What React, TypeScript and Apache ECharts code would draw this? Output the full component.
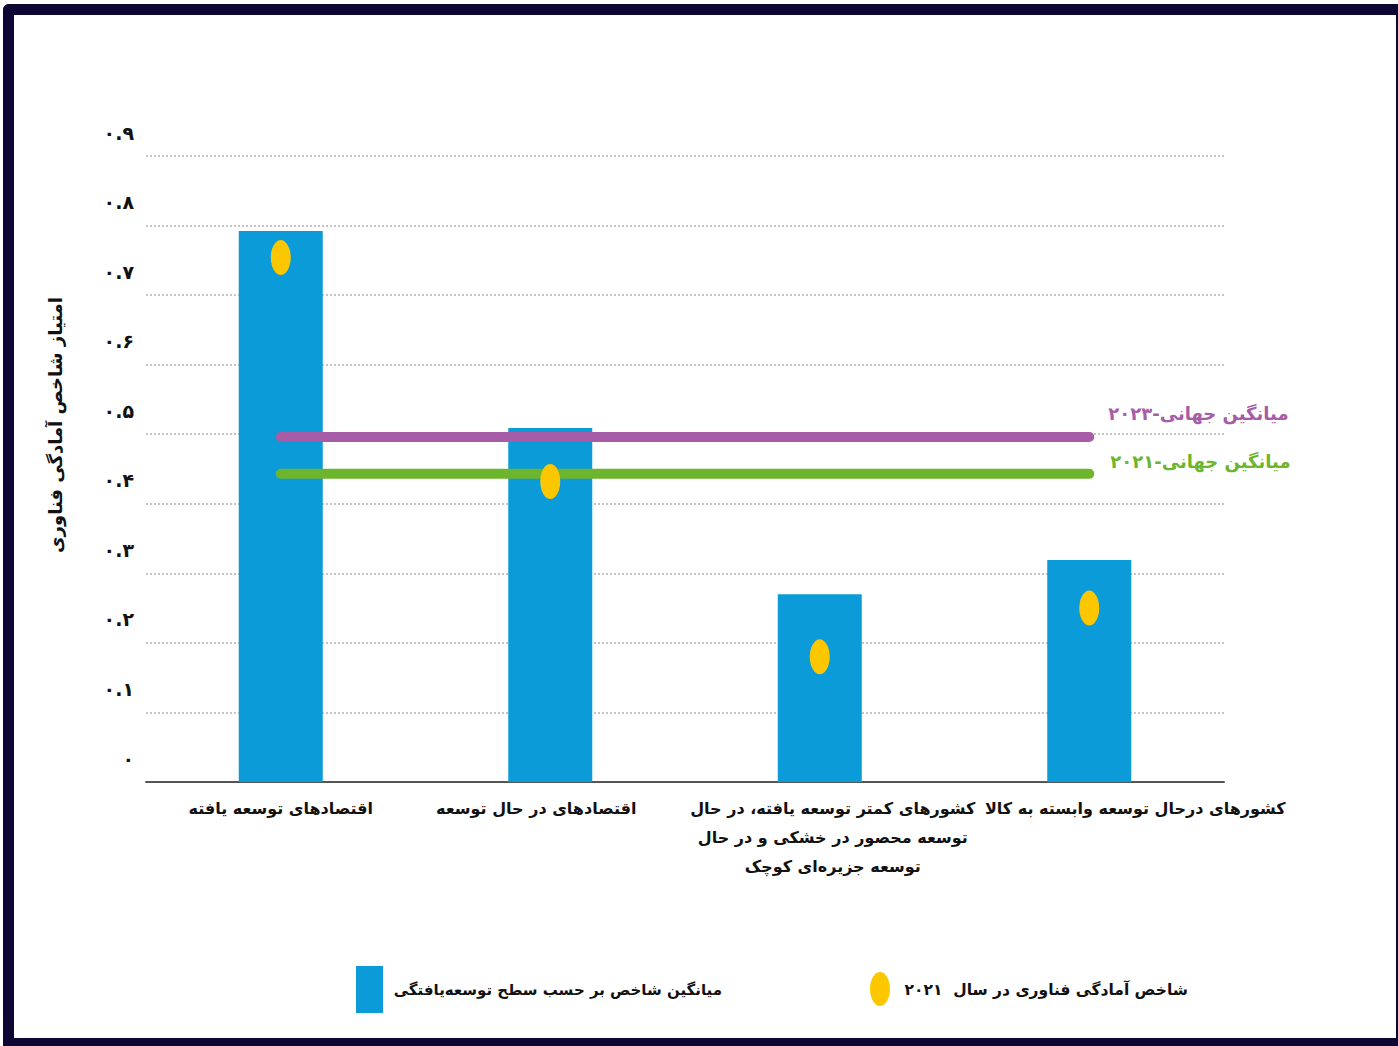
import React, { useEffect, useRef } from "react";
import * as echarts from "echarts";

const categories = [
  "اقتصادهای توسعه یافته",
  "اقتصادهای در حال توسعه",
  "کشورهای کمتر توسعه یافته، در حال\nتوسعه محصور در خشکی و در حال\nتوسعه جزیره‌ای کوچک",
  "کشورهای درحال توسعه وابسته به کالا",
];
const barValues = [0.792, 0.509, 0.27, 0.319];
const dotValues = [0.754, 0.432, 0.18, 0.25];
const worldAvg2023 = 0.496;
const worldAvg2021 = 0.443;
const yTickLabels = ["۰", "۰.۱", "۰.۲", "۰.۳", "۰.۴", "۰.۵", "۰.۶", "۰.۷", "۰.۸", "۰.۹"];
const yAxisTitle = "امتیاز شاخص آمادگی فناوری";
const label2023 = "میانگین جهانی-۲۰۲۳";
const label2021 = "میانگین جهانی-۲۰۲۱";
const legendBar = "میانگین شاخص بر حسب سطح توسعه‌یافتگی";
const legendDot = "شاخص آمادگی فناوری در سال  ۲۰۲۱";

const FONT = "'DejaVu Sans', sans-serif";
const BLUE = "#0a9bd8";
const YELLOW = "#fdc700";
const PURPLE = "#a65ca6";
const GREEN = "#6cb52d";
const FRAME = "#0f0733";

const catPadding = [
  [0, 0, 0, 0],
  [0, 28, 0, 0],
  [0, 0, 0, 26],
  [0, 0, 0, 92],
];

export default function App() {
  const ref = useRef<HTMLDivElement>(null);
  useEffect(() => {
    if (!ref.current) return;
    const chart = echarts.init(ref.current, null, { renderer: "svg" });
    chart.setOption({
      animation: false,
      backgroundColor: "#ffffff",
      grid: { left: 146, right: 174, top: 156, bottom: 264, containLabel: false },
      xAxis: {
        type: "category",
        data: categories.map((c, i) => ({
          value: c,
          textStyle: { padding: catPadding[i] },
        })),
        axisLine: { show: true, lineStyle: { color: "#555555", width: 2 } },
        axisTick: { show: false },
        axisLabel: {
          interval: 0,
          margin: 12,
          color: "#111111",
          fontFamily: FONT,
          fontWeight: "bold",
          fontSize: 16,
          lineHeight: 29,
        },
      },
      yAxis: {
        type: "value",
        min: 0,
        max: 0.9,
        interval: 0.1,
        axisLine: { show: false },
        axisTick: { show: false },
        axisLabel: {
          formatter: (v: number) => yTickLabels[Math.round(v * 10)],
          color: "#111111",
          fontFamily: FONT,
          fontWeight: "bold",
          fontSize: 19,
          margin: 12,
          verticalAlign: "bottom",
          padding: [0, 0, 14, 0],
        },
        splitLine: {
          show: true,
          lineStyle: { color: "#c4c4c4", width: 2, type: [2, 2] },
        },
      },
      series: [
        {
          type: "bar",
          data: barValues,
          barWidth: 84,
          itemStyle: { color: BLUE },
          z: 2,
        },
        {
          type: "line",
          data: categories.map(() => worldAvg2023),
          symbol: "none",
          lineStyle: { color: PURPLE, width: 10, cap: "round" },
          z: 3,
          endLabel: {
            show: true,
            formatter: label2023,
            color: PURPLE,
            fontFamily: FONT,
            fontWeight: "bold",
            fontSize: 18,
            distance: 0,
            offset: [19, -24],
          },
        },
        {
          type: "line",
          data: categories.map(() => worldAvg2021),
          symbol: "none",
          lineStyle: { color: GREEN, width: 10, cap: "round" },
          z: 3,
          endLabel: {
            show: true,
            formatter: label2021,
            color: GREEN,
            fontFamily: FONT,
            fontWeight: "bold",
            fontSize: 18,
            distance: 0,
            offset: [21, -12],
          },
        },
        {
          type: "scatter",
          data: dotValues,
          symbol: "circle",
          symbolSize: [20, 35],
          itemStyle: { color: YELLOW, opacity: 1 },
          z: 4,
        },
      ],
      graphic: [
        { type: "rect", shape: { x: 3, y: 4, width: 1395, height: 11, r: [6, 0, 0, 0] }, style: { fill: FRAME } },
        { type: "rect", shape: { x: 3, y: 4, width: 11, height: 1042, r: [6, 0, 0, 0] }, style: { fill: FRAME } },
        { type: "rect", shape: { x: 3, y: 1038, width: 1395, height: 8 }, style: { fill: FRAME } },
        { type: "rect", shape: { x: 1396, y: 4, width: 2, height: 1042 }, style: { fill: FRAME } },
        {
          type: "text",
          x: 55,
          y: 425,
          rotation: Math.PI / 2,
          style: {
            text: yAxisTitle,
            fill: "#111111",
            font: `bold 18px ${FONT}`,
            textAlign: "center",
            textVerticalAlign: "middle",
          },
        },
        { type: "rect", shape: { x: 356, y: 966, width: 27, height: 47 }, style: { fill: BLUE } },
        {
          type: "text",
          x: 722,
          y: 990,
          style: {
            text: legendBar,
            fill: "#111111",
            font: `bold 15px ${FONT}`,
            textAlign: "right",
            textVerticalAlign: "middle",
          },
        },
        { type: "ellipse", shape: { cx: 880, cy: 989, rx: 10, ry: 17 }, style: { fill: YELLOW } },
        {
          type: "text",
          x: 1188,
          y: 990,
          style: {
            text: legendDot,
            fill: "#111111",
            font: `bold 15.5px ${FONT}`,
            textAlign: "right",
            textVerticalAlign: "middle",
          },
        },
      ],
    });
    return () => chart.dispose();
  }, []);
  return (
    <div
      ref={ref}
      style={{ position: "fixed", left: 0, top: 0, width: 1398, height: 1046 }}
    />
  );
}
